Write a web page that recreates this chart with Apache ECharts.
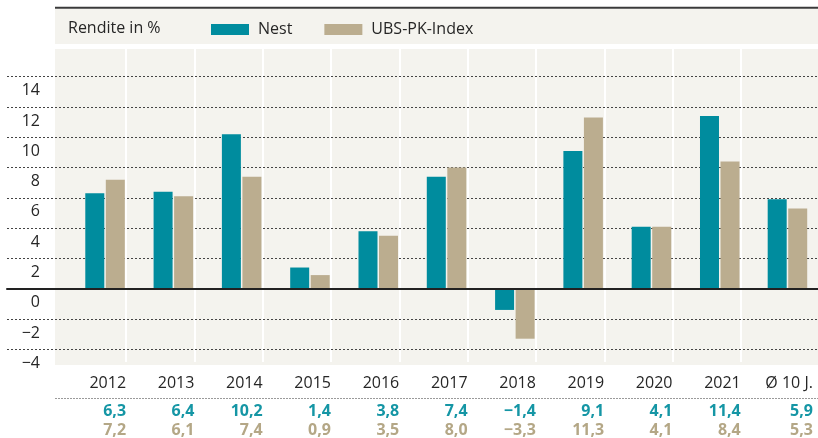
<!DOCTYPE html>
<html lang="de">
<head>
  <meta charset="UTF-8">
  <script src="https://cdn.jsdelivr.net/npm/echarts@6.0.0/dist/echarts.min.js"></script>
</head>
<body style="margin:0;background:#fff">
  <div id="renditeChart" style="width: 818px;height:438px;"></div>
  <script type="text/javascript">
    var years = ['2012', '2013', '2014', '2015', '2016', '2017', '2018', '2019', '2020', '2021', 'Ø 10 J.'];
    var nest = [6.3, 6.4, 10.2, 1.4, 3.8, 7.4, -1.4, 9.1, 4.1, 11.4, 5.9];
    var ubs = [7.2, 6.1, 7.4, 0.9, 3.5, 8.0, -3.3, 11.3, 4.1, 8.4, 5.3];
    var yMin = -4, yMax = 14, yStep = 2;

    var teal = '#008c9e';
    var beige = '#bbad8f';
    var panel = '#f4f3ee';
    var ink = '#262626';
    var font = 'Open Sans';
    var hidden = { show: false };

    // the ten single years share one column width, the 10-year average column is a bit wider
    var colLeft = 57.9, bandW = 68.3, avgW = 72;
    var nYears = 10;
    var avgLeft = colLeft + bandW * nYears;

    function fmt(v, digits) {
      return (v < 0 ? '\u2212' : '') + Math.abs(v).toFixed(digits).replace('.', ',');
    }

    function rightLabel(width, color, bold, margin, text) {
      return {
        interval: 0, margin: margin,
        formatter: function (v, i) { return '{r|' + text(v, i) + '}'; },
        rich: { r: { width: width, align: 'right', fontFamily: font, fontSize: 16, color: color, fontWeight: bold ? 'bold' : 'normal' } }
      };
    }

    // year label, separators and the two value rows for one column block
    function columnAxes(gridIndex, start, end, width) {
      var cats = years.slice(start, end);
      var base = { type: 'category', gridIndex: gridIndex, data: cats, position: 'bottom', z: 1, axisLine: hidden, axisTick: hidden, splitLine: hidden };
      return [
        Object.assign({}, base, {
          splitLine: { show: true, interval: function (i) { return i > 0; }, lineStyle: { color: '#ffffff', width: 2 } },
          axisLabel: rightLabel(width, ink, false, 13, function (v) { return v; })
        }),
        Object.assign({}, base, {
          offset: 33,
          axisLabel: rightLabel(width, '#1596a5', true, 8, function (v, i) { return fmt(nest[start + i], 1); })
        }),
        Object.assign({}, base, {
          offset: 33,
          axisLabel: rightLabel(width, '#b4a786', true, 27, function (v, i) { return fmt(ubs[start + i], 1); })
        })
      ];
    }

    function barSeries(name, values, color, xIdx, yIdx) {
      return {
        name: name, type: 'bar', xAxisIndex: xIdx, yAxisIndex: yIdx, z: 3,
        barWidth: 19, barGap: '8%', itemStyle: { color: color }, data: values
      };
    }

    var chart = echarts.init(document.getElementById('renditeChart'));

    var xAxes = []
      .concat(columnAxes(0, 0, nYears, 68))              // x 0..2
      .concat(columnAxes(1, nYears, years.length, avgW))  // x 3..5
      .concat([
        {
          type: 'value', gridIndex: 2, z: 4,               // x 6: zero line
          axisLine: { show: true, onZero: true, lineStyle: { color: '#222', width: 2 } },
          axisTick: hidden, axisLabel: hidden, splitLine: hidden
        },
        { type: 'category', gridIndex: 3, data: years.slice(0, nYears), show: false }, // x 7
        { type: 'category', gridIndex: 4, data: years.slice(nYears), show: false }     // x 8
      ]);

    var yAxes = [
      { type: 'value', gridIndex: 0, show: false },
      { type: 'value', gridIndex: 1, show: false },
      {
        type: 'value', gridIndex: 2, min: yMin, max: yMax, interval: yStep, z: 2,
        axisLine: hidden, axisTick: hidden,
        splitLine: { lineStyle: { color: '#444', width: 1, type: [2, 2] } },
        axisLabel: {
          inside: true, margin: 33, align: 'right', verticalAlign: 'top', padding: [6, 0, 0, 0],
          fontFamily: font, fontSize: 16, color: ink,
          formatter: function (v) { return fmt(v, 0); }
        }
      },
      { type: 'value', gridIndex: 3, min: yMin, max: yMax, interval: yStep, show: false },
      { type: 'value', gridIndex: 4, min: yMin, max: yMax, interval: yStep, show: false }
    ];

    chart.setOption({
      animation: false,
      backgroundColor: '#ffffff',
      title: {
        text: 'Rendite in %', left: 68, top: 19.5, padding: 0,
        textStyle: { fontFamily: font, fontSize: 16, fontWeight: 'normal', color: ink, lineHeight: 18 }
      },
      legend: {
        left: 211, top: 21.5, padding: 0, itemWidth: 38, itemHeight: 11, itemGap: 32, icon: 'rect',
        data: ['Nest', 'UBS-PK-Index'],
        textStyle: { fontFamily: font, fontSize: 16, color: ink, padding: [0, 0, 0, 4] }
      },
      // header band, column panel and the dotted rule above the value rows
      graphic: [
        { type: 'rect', z: -1, shape: { x: 55, y: 9, width: 763, height: 35 }, style: { fill: panel } },
        { type: 'line', z: -1, shape: { x1: 55, y1: 7.7, x2: 818, y2: 7.7 }, style: { stroke: '#3a3a3a', lineWidth: 2 } },
        { type: 'rect', z: -1, shape: { x: 55, y: 49, width: 763, height: 316 }, style: { fill: panel } },
        { type: 'line', z: -1, shape: { x1: 55, y1: 398.5, x2: 818, y2: 398.5 }, style: { stroke: '#9a9a9a', lineWidth: 1, lineDash: [2, 1] } }
      ],
      grid: [
        { left: colLeft, width: bandW * nYears, top: 49, bottom: 73 },
        { left: avgLeft, width: avgW, top: 49, bottom: 73 },
        { left: 7, right: 0, top: 76.7, bottom: 88.7 },
        { left: colLeft + 13, width: bandW * nYears, top: 76.7, bottom: 88.7 },
        { left: avgLeft + 16, width: avgW, top: 76.7, bottom: 88.7 }
      ],
      xAxis: xAxes,
      yAxis: yAxes,
      series: [
        barSeries('Nest', nest.slice(0, nYears), teal, 7, 3),
        barSeries('UBS-PK-Index', ubs.slice(0, nYears), beige, 7, 3),
        barSeries('Nest', nest.slice(nYears), teal, 8, 4),
        barSeries('UBS-PK-Index', ubs.slice(nYears), beige, 8, 4)
      ]
    });
  </script>
</body>
</html>
